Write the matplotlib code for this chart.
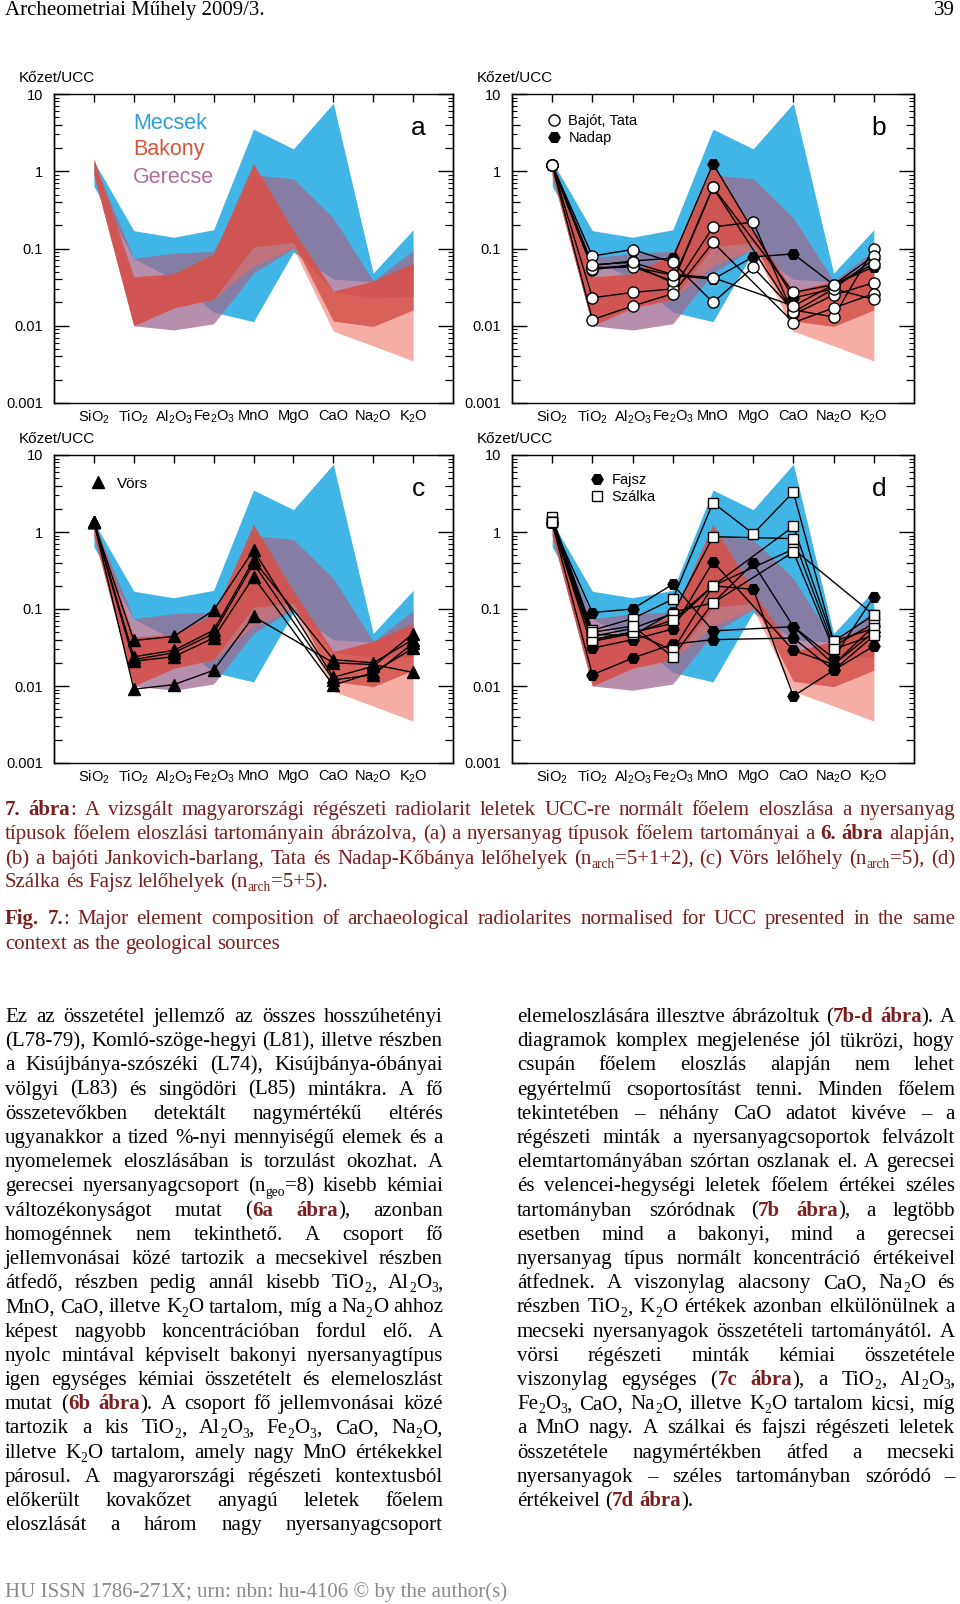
import numpy as np
import matplotlib
matplotlib.use("Agg")
import matplotlib.pyplot as plt
from matplotlib.lines import Line2D
from matplotlib.ticker import (FixedFormatter, FixedLocator, LogLocator,
                               NullFormatter, NullLocator)

W, H, DPI = 960, 1604, 100
nan = np.nan

plt.rcParams["mathtext.fontset"] = "custom"
plt.rcParams["mathtext.rm"] = "Liberation Sans"
plt.rcParams["mathtext.it"] = "Liberation Sans:italic"
plt.rcParams["mathtext.bf"] = "Liberation Sans:bold"

SANS = ["Liberation Sans", "DejaVu Sans"]
SERIF = ["Liberation Serif", "DejaVu Serif"]
MAROON = "#7a1e1e"

# ---- data -------------------------------------------------------------
oxides = ["SiO$_2$", "TiO$_2$", "Al$_2$O$_3$", "Fe$_2$O$_3$", "MnO",
          "MgO", "CaO", "Na$_2$O", "K$_2$O"]
ytick_vals = [0.001, 0.01, 0.1, 1, 10]
ytick_labels = ["0.001", "0.01", "0.1", "1", "10"]
mid_ticks = [0.002, 0.004, 0.02, 0.04, 0.2, 0.4, 2, 4]

# raw material fields (rock / UCC)
mecsek_hi = [1.35, 0.17, 0.14, 0.175, 3.5, 1.95, 7.6, 0.048, 0.175]
mecsek_lo = [0.64, 0.074, 0.04, 0.015, 0.0113, 0.09, 0.04, 0.037, 0.05]
gerecse_hi = [1.3, 0.075, 0.087, 0.092, 0.9, 0.8, 0.25, 0.038, 0.095]
gerecse_lo = [0.9, 0.0100, 0.0088, 0.0106, 0.048, 0.1, 0.0275, 0.023, 0.024]
bakony_hi = [1.45, 0.043, 0.047, 0.085, 1.25, 0.17, 0.028, 0.038, 0.065]
bakony_lo = [0.9, 0.0100, 0.017, 0.022, 0.105, 0.12, 0.0115, 0.0098, 0.016]
bakony_min = [0.9, 0.0100, 0.017, 0.022, 0.06, 0.1, 0.0085, 0.0055, 0.0035]

# archaeological samples (NaN = not plotted)
bajot_tata = [
    [1.2, 0.080, 0.097, 0.066, 0.020, 0.057, 0.016, 0.013, 0.100],
    [1.2, 0.053, 0.062, 0.036, 0.62, nan, 0.027, 0.034, 0.080],
    [1.2, 0.023, 0.027, 0.030, 0.19, 0.22, 0.014, 0.025, 0.036],
    [1.2, 0.012, 0.018, 0.026, 0.12, nan, 0.011, 0.017, 0.026],
    [1.2, 0.055, 0.058, 0.038, 0.62, nan, 0.015, 0.030, 0.022],
    [1.2, 0.062, 0.066, 0.046, 0.042, nan, 0.018, 0.034, 0.063],
]
nadap = [
    [1.2, 0.060, 0.069, 0.075, 1.25, nan, 0.023, 0.030, 0.073],
    [1.2, 0.057, 0.058, 0.045, 0.040, 0.078, 0.085, 0.034, 0.058],
]
vors = [
    [1.34, 0.039, 0.044, 0.096, 0.58, nan, 0.013, 0.018, 0.048],
    [1.34, 0.024, 0.029, 0.053, 0.43, nan, 0.022, 0.020, 0.040],
    [1.34, 0.022, 0.027, 0.048, 0.39, nan, 0.012, 0.014, 0.036],
    [1.34, 0.021, 0.024, 0.042, 0.26, nan, 0.0102, 0.015, 0.031],
    [1.34, 0.0091, 0.0104, 0.016, 0.08, nan, 0.020, 0.019, 0.015],
]
fajsz = [
    [1.3, 0.090, 0.10, 0.21, 0.052, nan, 0.059, 0.023, 0.145],
    [1.3, 0.031, 0.040, 0.055, 0.41, nan, 0.029, 0.019, 0.060],
    [1.3, 0.014, 0.023, 0.035, 0.040, nan, 0.042, 0.016, 0.033],
    [1.3, 0.047, 0.045, 0.091, 0.12, 0.39, 0.059, 0.019, 0.050],
    [1.3, 0.040, 0.050, 0.065, 0.20, 0.18, 0.0074, 0.016, 0.045],
]
szalka = [
    [1.55, 0.053, 0.075, 0.134, 2.4, 0.95, 3.3, 0.038, 0.084],
    [1.34, 0.044, 0.056, 0.087, 0.87, nan, 0.82, 0.033, 0.065],
    [1.34, 0.038, 0.048, 0.072, 0.20, nan, 1.18, 0.038, 0.056],
    [1.34, 0.040, 0.050, 0.029, 0.20, nan, 0.60, nan, 0.084],
    [1.34, 0.050, 0.060, 0.024, 0.12, nan, 0.55, 0.030, 0.046],
]

header_left = "Archeometriai Műhely 2009/3."
header_right = "39"
footer = "HU ISSN 1786-271X; urn: nbn: hu-4106 © by the author(s)"

# *...* = bold reference, _{...} = subscript
caption = [
    ("*7. ábra*: A vizsgált magyarországi régészeti radiolarit leletek UCC-re normált főelem eloszlása a nyersanyag", True),
    ("típusok főelem eloszlási tartományain ábrázolva, (a) a nyersanyag típusok főelem tartományai a *6. ábra* alapján,", True),
    ("(b) a bajóti Jankovich-barlang, Tata és Nadap-Kőbánya lelőhelyek (n_{arch}=5+1+2), (c) Vörs lelőhely (n_{arch}=5), (d)", True),
    ("Szálka és Fajsz lelőhelyek (n_{arch}=5+5).", False),
    ("*Fig. 7.*: Major element composition of archaeological radiolarites normalised for UCC presented in the same", True),
    ("context as the geological sources", False),
]
left_col = [
    "Ez az összetétel jellemző az összes hosszúhetényi",
    "(L78-79), Komló-szöge-hegyi (L81), illetve részben",
    "a Kisújbánya-szószéki (L74), Kisújbánya-óbányai",
    "völgyi (L83) és singödöri (L85) mintákra. A fő",
    "összetevőkben detektált nagymértékű eltérés",
    "ugyanakkor a tized %-nyi mennyiségű elemek és a",
    "nyomelemek eloszlásában is torzulást okozhat. A",
    "gerecsei nyersanyagcsoport (n_{geo}=8) kisebb kémiai",
    "változékonyságot mutat (*6a ábra*), azonban",
    "homogénnek nem tekinthető. A csoport fő",
    "jellemvonásai közé tartozik a mecsekivel részben",
    "átfedő, részben pedig annál kisebb TiO_{2}, Al_{2}O_{3},",
    "MnO, CaO, illetve K_{2}O tartalom, míg a Na_{2}O ahhoz",
    "képest nagyobb koncentrációban fordul elő. A",
    "nyolc mintával képviselt bakonyi nyersanyagtípus",
    "igen egységes kémiai összetételt és elemeloszlást",
    "mutat (*6b ábra*). A csoport fő jellemvonásai közé",
    "tartozik a kis TiO_{2}, Al_{2}O_{3}, Fe_{2}O_{3}, CaO, Na_{2}O,",
    "illetve K_{2}O tartalom, amely nagy MnO értékekkel",
    "párosul. A magyarországi régészeti kontextusból",
    "előkerült kovakőzet anyagú leletek főelem",
    "eloszlását a három nagy nyersanyagcsoport",
]
right_col = [
    "elemeloszlására illesztve ábrázoltuk (*7b-d ábra*). A",
    "diagramok komplex megjelenése jól tükrözi, hogy",
    "csupán főelem eloszlás alapján nem lehet",
    "egyértelmű csoportosítást tenni. Minden főelem",
    "tekintetében – néhány CaO adatot kivéve – a",
    "régészeti minták a nyersanyagcsoportok felvázolt",
    "elemtartományában szórtan oszlanak el. A gerecsei",
    "és velencei-hegységi leletek főelem értékei széles",
    "tartományban szóródnak (*7b ábra*), a legtöbb",
    "esetben mind a bakonyi, mind a gerecsei",
    "nyersanyag típus normált koncentráció értékeivel",
    "átfednek. A viszonylag alacsony CaO, Na_{2}O és",
    "részben TiO_{2}, K_{2}O értékek azonban elkülönülnek a",
    "mecseki nyersanyagok összetételi tartományától. A",
    "vörsi régészeti minták kémiai összetétele",
    "viszonylag egységes (*7c ábra*), a TiO_{2}, Al_{2}O_{3},",
    "Fe_{2}O_{3}, CaO, Na_{2}O, illetve K_{2}O tartalom kicsi, míg",
    "a MnO nagy. A szálkai és fajszi régészeti leletek",
    "összetétele nagymértékben átfed a mecseki",
    "nyersanyagok – széles tartományban szóródó –",
    "értékeivel (*7d ábra*).",
]

# ---- figure -----------------------------------------------------------
fig = plt.figure(figsize=(W / DPI, H / DPI), dpi=DPI)
renderer = fig.canvas.get_renderer()
xpos = np.arange(len(oxides))

BLUE = "#41b6e6"
GER = "#9e6a90"
RED = "#d14e48"
SALMON = "#f06a5c"


def add_axes_px(left, top, right, bottom):
    return fig.add_axes([left / W, 1 - bottom / H, (right - left) / W, (bottom - top) / H])


def setup(ax, letter):
    ax.set_yscale("log")
    ax.set_ylim(1e-3, 10)
    ax.set_xlim(-1, 9)
    ax.set_xticks(xpos)
    ax.set_xticklabels(oxides, fontsize=10.5, family=SANS)
    ax.tick_params(axis="x", bottom=False, top=True, direction="in",
                   length=6, width=1, pad=4)
    ax.yaxis.set_major_locator(FixedLocator(ytick_vals))
    ax.yaxis.set_major_formatter(FixedFormatter(ytick_labels))
    ax.yaxis.set_minor_locator(LogLocator(subs=[3, 5, 6, 7, 8, 9]))
    ax.yaxis.set_minor_formatter(NullFormatter())
    ax.tick_params(axis="y", which="major", left=True, right=True,
                   direction="in", length=11, width=1, labelsize=10.5, pad=8)
    ax.tick_params(axis="y", which="minor", left=True, right=True,
                   direction="in", length=3.5, width=0.8)
    for lab in ax.get_yticklabels():
        lab.set_family(SANS)
    for sp in ax.spines.values():
        sp.set_linewidth(1)
    for side in ["left", "right"]:
        sec = ax.secondary_yaxis(side)
        sec.set_yticks(mid_ticks)
        sec.yaxis.set_major_formatter(NullFormatter())
        sec.yaxis.set_minor_locator(NullLocator())
        sec.tick_params(direction="in", length=6, width=0.9)
        sec.spines[side].set_linewidth(1)
    ax.text(-0.088, 1.052, "Kőzet/UCC", transform=ax.transAxes, fontsize=11,
            family=SANS, va="center", ha="left")
    ax.text(0.913, 0.89, letter, transform=ax.transAxes, fontsize=19,
            family=SANS, va="center", ha="center")


def draw_fields(ax):
    ax.fill_between(xpos, mecsek_lo, mecsek_hi, color=BLUE, lw=0, zorder=1)
    ax.fill_between(xpos, gerecse_lo, gerecse_hi, color=GER, alpha=0.75, lw=0, zorder=2)
    ax.fill_between(xpos, bakony_min, bakony_hi, color=SALMON, alpha=0.55, lw=0, zorder=3)
    ax.fill_between(xpos, bakony_lo, bakony_hi, color=RED, alpha=0.8, lw=0, zorder=4)


def draw_samples(ax, groups):
    for series, _ in groups:
        for vals in series:
            v = np.array(vals, float)
            m = ~np.isnan(v)
            ax.plot(xpos[m], v[m], color="k", lw=1, zorder=5)
    for series, style in groups:
        for vals in series:
            ax.plot(xpos, vals, ls="none", zorder=6, **style)


def sample_legend(ax, groups, labels, x0, y0, size=10.5, pad=0.5):
    handles = [Line2D([], [], ls="none", **style) for _, style in groups]
    ax.legend(handles, labels, loc="upper left", bbox_to_anchor=(x0, y0),
              frameon=False, handlelength=1.0, handletextpad=pad,
              labelspacing=0.2, borderpad=0, borderaxespad=0,
              prop={"family": SANS, "size": size})


open_circle = dict(marker="o", mfc="white", mec="k", ms=8, mew=1)
black_hex = dict(marker="H", mfc="k", mec="k", ms=8, mew=1)
black_tri = dict(marker="^", mfc="k", mec="k", ms=8.5, mew=1)
open_square = dict(marker="s", mfc="white", mec="k", ms=7.5, mew=1)

# panel a
ax_a = add_axes_px(54, 94, 453, 403)
setup(ax_a, "a")
draw_fields(ax_a)
for name, col, yy in [("Mecsek", "#2b9fd6", 0.903), ("Bakony", "#d4563f", 0.819),
                      ("Gerecse", "#b06e98", 0.731)]:
    ax_a.text(0.198, yy, name, transform=ax_a.transAxes, color=col,
              fontsize=15.5, family=SANS, va="center", ha="left")

# panel b (Nadap drawn first so the open circles sit on top at SiO2)
ax_b = add_axes_px(512, 94, 914, 403)
setup(ax_b, "b")
draw_fields(ax_b)
draw_samples(ax_b, [(nadap, black_hex), (bajot_tata, open_circle)])
sample_legend(ax_b, [(bajot_tata, open_circle), (nadap, black_hex)],
              ["Bajót, Tata", "Nadap"], 0.086, 0.935)

# panel c
ax_c = add_axes_px(54, 455, 453, 763)
setup(ax_c, "c")
draw_fields(ax_c)
groups_c = [(vors, black_tri)]
draw_samples(ax_c, groups_c)
sample_legend(ax_c, groups_c, ["Vörs"], 0.092, 0.93, size=11, pad=0.7)

# panel d
ax_d = add_axes_px(512, 455, 914, 763)
setup(ax_d, "d")
draw_fields(ax_d)
groups_d = [(fajsz, black_hex), (szalka, open_square)]
draw_samples(ax_d, groups_d)
sample_legend(ax_d, groups_d, ["Fajsz", "Szálka"], 0.193, 0.94)


# ---- page text --------------------------------------------------------
def parse(line):
    words, word, buf = [], [], ""
    bold = False
    i = 0
    while i < len(line):
        ch = line[i]
        if ch == "*":
            if buf:
                word.append((buf, bold, False))
                buf = ""
            bold = not bold
        elif ch == "_" and line[i + 1:i + 2] == "{":
            if buf:
                word.append((buf, bold, False))
                buf = ""
            j = line.index("}", i)
            word.append((line[i + 2:j], bold, True))
            i = j
        elif ch == " ":
            if buf:
                word.append((buf, bold, False))
                buf = ""
            if word:
                words.append(word)
                word = []
        else:
            buf += ch
        i += 1
    if buf:
        word.append((buf, bold, False))
    if word:
        words.append(word)
    return words


def text_line(line, x0, x1, y, size=15, color="black", bold_color=MAROON, justify=True):
    em = size * DPI / 72
    placed, widths = [], []
    for word in parse(line):
        runs, wd = [], 0.0
        for s, b, sub in word:
            t = fig.text(0, 0, s, fontsize=size * 0.65 if sub else size,
                         family=SERIF, fontweight="bold" if b else "normal",
                         color=bold_color if b else color, va="baseline", ha="left")
            runs.append((t, wd, sub))
            wd += t.get_window_extent(renderer).width
        placed.append(runs)
        widths.append(wd)
    if justify and len(placed) > 1:
        gap = (x1 - x0 - sum(widths)) / (len(placed) - 1)
    else:
        gap = 0.25 * em
    x = x0
    for runs, wd in zip(placed, widths):
        for t, off, sub in runs:
            yy = y + (0.2 * em if sub else 0)
            t.set_position(((x + off) / W, 1 - yy / H))
        x += wd + gap


fig.text(5 / W, 1 - 15 / H, header_left, fontsize=15, family=SERIF, va="baseline")
fig.text(955 / W, 1 - 15 / H, header_right, fontsize=15, family=SERIF, va="baseline", ha="right")

cap_y = [815, 839, 864, 887, 924, 949]
for (line, just), y in zip(caption, cap_y):
    text_line(line, 5, 955, y, size=15, color=MAROON, justify=just)

for k, line in enumerate(left_col):
    text_line(line, 5, 443, 1022 + 24.2 * k)
for k, line in enumerate(right_col):
    text_line(line, 517, 955, 1022 + 24.2 * k, justify=k < len(right_col) - 1)

fig.text(5 / W, 1 - 1597 / H, footer, fontsize=15, family=SERIF, color="#8a8a8a", va="baseline")

fig.savefig("out.png", dpi=DPI)
